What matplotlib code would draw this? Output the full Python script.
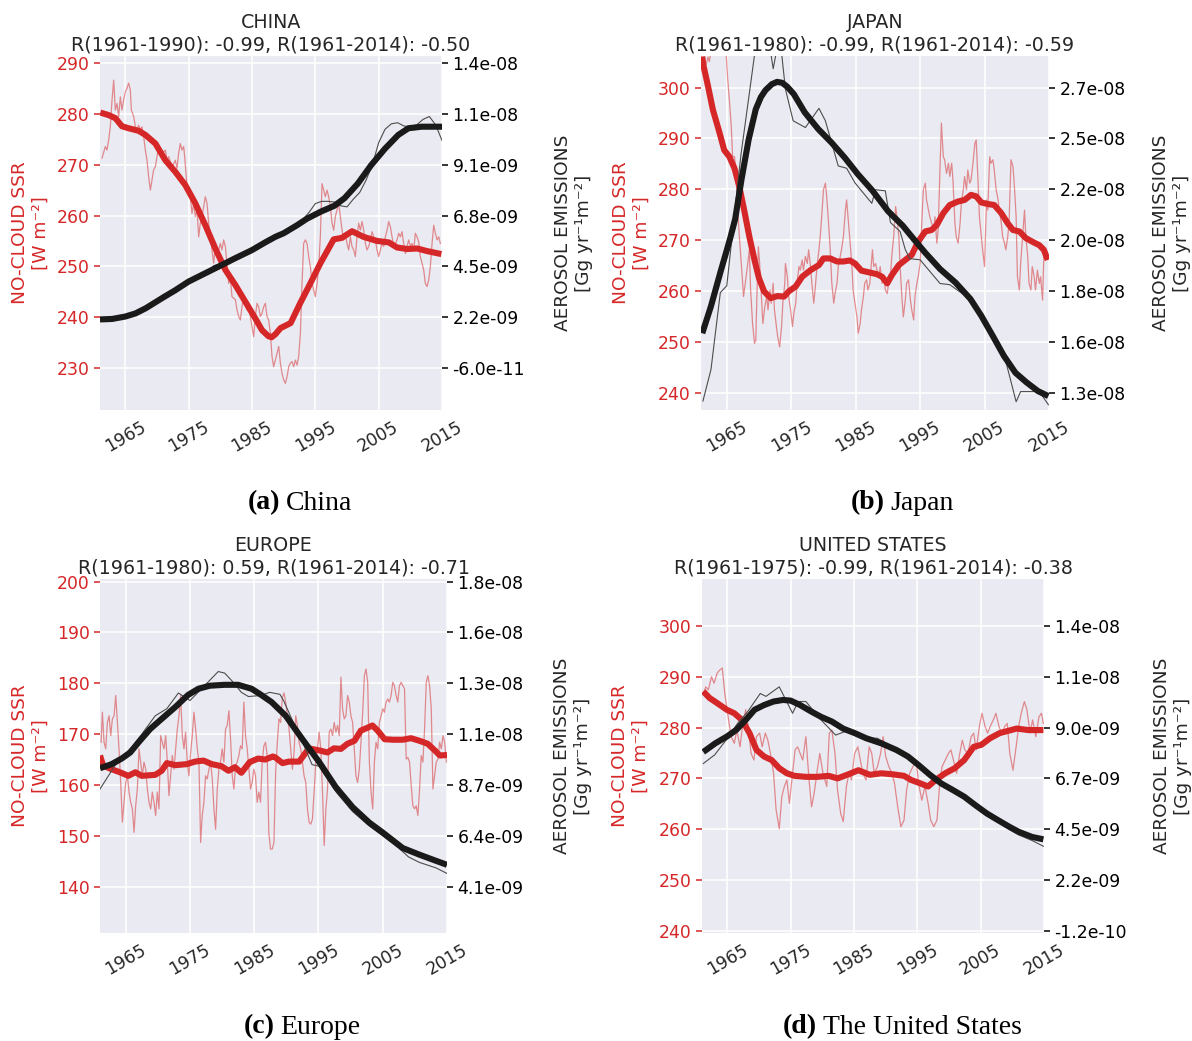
import numpy as np
import matplotlib
matplotlib.use("Agg")
import matplotlib.pyplot as plt
from matplotlib.ticker import FormatStrFormatter

# ---------------------------------------------------------------- data
YEAR_TICKS = [1965, 1975, 1985, 1995, 2005, 2015]

# ---- China: clear-sky SSR (monthly / smoothed), aerosol emissions (1e-9 units)
cn_ssr = [(1961.32,271.3),(1961.84,273.6),(1962.1,272.9),(1962.37,274.9),(1962.63,277.5),(1962.9,282.8),(1963.16,286.7),(1963.42,280.8),(1963.68,282.1),(1963.95,279.5),(1964.21,283.4),(1964.47,280.8),(1964.74,282.8),(1965.0,284.4),(1965.26,285.1),(1965.53,286.1),(1965.79,284.7),(1965.95,280.8),(1966.32,279.5),(1966.58,277.5),(1966.84,276.9),(1967.1,277.8),(1967.37,276.9),(1967.63,277.5),(1967.9,275.5),(1968.16,272.9),(1968.42,270.9),(1968.68,267.7),(1968.95,265.0),(1969.21,267.0),(1969.47,269.0),(1969.74,269.6),(1970.0,271.6),(1970.26,273.6),(1970.79,272.3),(1971.32,272.9),(1971.58,270.9),(1971.84,271.6),(1972.37,269.6),(1972.9,270.9),(1973.16,269.3),(1973.42,272.3),(1973.68,274.2),(1973.95,272.9),(1974.21,273.6),(1974.37,271.6),(1974.74,265.7),(1975.26,263.7),(1975.53,260.4),(1975.79,262.4),(1976.05,259.8),(1976.32,261.1),(1976.58,255.8),(1976.84,258.5),(1977.1,259.8),(1977.37,261.7),(1977.63,263.7),(1977.9,262.4),(1978.16,258.5),(1978.42,255.8),(1978.68,253.2),(1978.95,250.6),(1979.21,253.9),(1979.74,253.2),(1980.0,254.5),(1980.26,253.2),(1980.53,255.2),(1980.79,253.9),(1981.05,250.6),(1981.32,246.6),(1981.58,247.9),(1981.84,244.0),(1982.37,243.4),(1982.63,241.4),(1982.9,240.1),(1983.16,239.4),(1983.42,242.0),(1983.68,244.0),(1983.95,242.7),(1984.21,241.4),(1984.47,242.0),(1984.74,240.1),(1985.0,238.1),(1985.26,236.1),(1985.53,240.1),(1985.79,242.7),(1986.05,242.0),(1986.32,240.1),(1986.58,240.7),(1986.84,242.0),(1987.1,242.7),(1987.37,240.1),(1987.63,239.4),(1987.9,236.8),(1988.16,232.2),(1988.42,230.2),(1988.69,231.5),(1988.95,232.8),(1989.22,234.2),(1989.48,230.9),(1989.74,228.9),(1990.0,227.6),(1990.27,226.9),(1990.53,228.2),(1990.8,230.2),(1991.06,230.9),(1991.32,231.2),(1991.58,230.2),(1991.85,231.5),(1992.11,230.5),(1992.37,232.2),(1992.64,236.8),(1992.9,246.6),(1993.16,254.5),(1993.43,255.2),(1993.69,254.5),(1993.95,251.9),(1994.22,249.9),(1994.48,246.6),(1994.74,245.3),(1995.0,244.0),(1995.27,246.6),(1995.53,249.9),(1995.79,255.8),(1996.06,266.3),(1996.32,265.0),(1996.58,263.7),(1996.85,265.0),(1997.11,263.7),(1997.37,261.7),(1997.64,258.5),(1997.9,257.1),(1998.16,259.8),(1998.43,261.1),(1998.69,262.4),(1998.95,259.8),(1999.22,257.1),(1999.48,255.2),(1999.74,256.5),(2000.0,254.5),(2000.27,253.2),(2000.53,255.8),(2000.79,253.9),(2001.06,253.2),(2001.32,251.9),(2001.58,255.8),(2001.85,258.5),(2002.11,257.1),(2002.37,258.8),(2002.64,257.1),(2002.9,254.5),(2003.16,253.2),(2003.43,253.9),(2003.69,255.2),(2003.95,256.8),(2004.22,255.8),(2004.48,255.2),(2004.74,253.2),(2005.0,251.9),(2005.27,253.2),(2005.53,254.5),(2005.79,253.9),(2006.06,255.8),(2006.32,257.1),(2006.58,258.8),(2006.85,257.8),(2007.11,255.8),(2007.37,253.9),(2007.64,254.5),(2007.9,255.2),(2008.16,256.5),(2008.43,255.8),(2008.69,256.8),(2008.95,254.5),(2009.22,252.5),(2009.48,253.9),(2009.74,255.2),(2010.0,253.9),(2010.27,254.5),(2010.53,253.2),(2010.79,256.5),(2011.06,255.8),(2011.32,254.8),(2011.58,251.9),(2011.85,250.6),(2012.11,249.3),(2012.37,246.6),(2012.64,246.0),(2012.9,247.3),(2013.16,249.9),(2013.43,254.5),(2013.69,258.1),(2013.95,256.5),(2014.22,255.2),(2014.48,255.8),(2014.74,254.5)]
cn_ssr_smooth = [(1961.05,280.3),(1962.37,279.8),(1963.42,279.2),(1964.47,277.6),(1965.53,277.2),(1967.1,276.7),(1968.16,275.9),(1969.74,274.2),(1971.32,270.9),(1972.9,268.6),(1974.47,266.0),(1976.05,262.4),(1977.63,258.1),(1979.21,253.5),(1980.79,249.3),(1982.37,246.3),(1983.95,243.0),(1985.53,239.7),(1986.58,237.4),(1987.6,236.2),(1988.1,236.0),(1988.7,236.6),(1989.5,237.8),(1991.1,238.8),(1992.6,242.7),(1994.2,246.6),(1995.8,250.6),(1997.9,255.3),(1999.2,255.6),(2000.8,256.9),(2002.6,255.8),(2004.7,255.0),(2006.6,254.7),(2007.9,253.7),(2009.5,253.4),(2011.1,253.5),(2012.6,253.0),(2014.9,252.4)]
cn_aer = [(1961.0,2.12),(1962.0,2.12),(1963.0,2.14),(1964.0,2.17),(1965.0,2.21),(1966.0,2.27),(1967.0,2.38),(1968.0,2.55),(1969.0,2.78),(1970.0,3.0),(1971.0,3.24),(1972.0,3.37),(1973.0,3.46),(1974.0,3.65),(1975.0,3.85),(1976.0,4.0),(1977.0,4.12),(1978.0,4.3),(1979.0,4.55),(1980.0,4.63),(1981.0,4.72),(1982.0,4.85),(1983.0,4.98),(1984.0,5.12),(1985.0,5.25),(1986.0,5.4),(1987.0,5.58),(1988.0,5.78),(1989.0,5.95),(1990.0,6.1),(1991.0,6.25),(1992.0,6.4),(1993.0,6.62),(1994.0,6.95),(1995.0,7.35),(1996.0,7.45),(1997.0,7.45),(1998.0,7.42),(1999.0,7.25),(2000.0,7.2),(2001.0,7.55),(2002.0,7.85),(2003.0,8.4),(2004.0,9.1),(2005.0,10.1),(2006.0,10.7),(2007.0,10.95),(2008.0,11.0),(2009.0,10.85),(2010.0,10.82),(2011.0,10.9),(2012.0,11.15),(2013.0,11.28),(2014.0,10.9),(2015.0,10.2)]
cn_aer_smooth = [(1961.0,2.12),(1962.9,2.14),(1965.0,2.25),(1966.6,2.39),(1968.2,2.62),(1970.8,3.08),(1972.9,3.44),(1975.0,3.83),(1977.1,4.13),(1979.7,4.50),(1982.4,4.89),(1985.0,5.25),(1987.1,5.60),(1988.7,5.85),(1990.0,6.01),(1992.1,6.37),(1993.7,6.67),(1995.9,6.99),(1998.0,7.25),(1999.6,7.59),(2001.7,8.25),(2003.8,9.08),(2006.0,9.83),(2008.1,10.45),(2009.7,10.75),(2011.8,10.82),(2015.0,10.82)]
cn_ssr_ticks = [230, 240, 250, 260, 270, 280, 290]
cn_aer_ticks = [-0.06, 2.23, 4.52, 6.81, 9.10, 11.39, 13.68]

# ---- Japan
jp_ssr = [(1961.2,304.8),(1961.5,305.9),(1961.8,304.5),(1962.1,306.0),(1962.3,305.1),(1962.6,307.5),(1963.0,309.0),(1963.5,308.0),(1964.0,310.0),(1964.5,308.5),(1964.9,306.8),(1965.15,301.5),(1965.4,297.6),(1965.7,292.3),(1965.9,286.4),(1966.2,286.4),(1966.4,283.8),(1966.7,275.9),(1966.95,270.7),(1967.1,268.1),(1967.4,262.8),(1967.6,258.9),(1967.8,260.9),(1968.0,262.8),(1968.2,264.8),(1968.5,268.1),(1968.7,260.2),(1969.0,253.6),(1969.3,249.7),(1969.5,250.3),(1969.7,260.2),(1969.9,268.7),(1970.1,265.4),(1970.4,258.2),(1970.6,253.6),(1970.9,256.9),(1971.2,258.9),(1971.4,256.3),(1971.7,260.2),(1971.9,257.6),(1972.2,261.5),(1972.4,256.3),(1972.7,253.0),(1972.9,251.0),(1973.2,249.0),(1973.5,253.0),(1973.7,257.6),(1974.0,261.5),(1974.1,265.4),(1974.4,262.8),(1974.6,258.9),(1974.9,256.3),(1975.2,253.0),(1975.4,255.6),(1975.7,257.6),(1975.9,261.5),(1976.2,264.8),(1976.4,264.1),(1976.7,266.1),(1976.9,264.1),(1977.2,266.8),(1977.5,265.4),(1977.7,268.1),(1978.0,264.8),(1978.2,261.5),(1978.5,257.6),(1978.7,260.2),(1979.0,264.8),(1979.3,268.1),(1979.5,270.7),(1979.8,275.9),(1980.0,279.9),(1980.3,281.2),(1980.5,278.6),(1980.8,273.3),(1981.05,268.1),(1981.3,261.5),(1981.6,257.6),(1981.8,259.5),(1982.1,261.5),(1982.3,264.8),(1982.6,266.8),(1982.8,268.1),(1983.1,270.7),(1983.4,275.9),(1983.6,277.9),(1983.9,273.3),(1984.1,270.0),(1984.4,265.4),(1984.6,260.2),(1984.9,257.6),(1985.2,254.9),(1985.4,251.7),(1985.7,253.6),(1985.9,256.3),(1986.2,258.9),(1986.4,261.5),(1986.7,262.2),(1986.9,260.2),(1987.2,261.5),(1987.6,268.1),(1987.8,264.8),(1988.1,265.4),(1988.3,264.1),(1988.6,262.8),(1988.8,264.8),(1989.1,261.5),(1989.4,262.8),(1989.6,260.2),(1989.9,259.5),(1990.1,261.5),(1990.4,262.8),(1990.6,266.8),(1990.9,270.7),(1991.2,276.6),(1991.4,274.6),(1991.7,270.7),(1991.9,264.8),(1992.2,258.2),(1992.4,254.9),(1992.7,258.2),(1992.9,261.5),(1993.2,262.2),(1993.5,258.2),(1993.7,256.3),(1994.0,254.3),(1994.2,258.9),(1994.5,261.5),(1994.7,262.8),(1995.0,265.4),(1995.3,274.6),(1995.5,279.9),(1995.8,281.2),(1996.0,277.9),(1996.3,275.9),(1996.5,274.6),(1996.8,273.3),(1997.1,272.0),(1997.3,274.6),(1997.6,269.4),(1997.8,272.0),(1998.1,284.5),(1998.3,293.0),(1998.6,286.4),(1998.8,285.8),(1999.1,283.1),(1999.4,285.1),(1999.6,282.5),(1999.9,285.1),(2000.1,281.8),(2000.4,273.3),(2000.6,270.7),(2000.9,269.4),(2001.2,273.3),(2001.4,277.2),(2001.7,279.9),(2001.9,282.5),(2002.2,279.9),(2002.4,283.8),(2002.7,281.2),(2002.9,281.8),(2003.2,285.1),(2003.5,289.0),(2003.7,289.7),(2004.0,281.2),(2004.2,274.6),(2004.5,270.7),(2004.7,268.1),(2005.0,264.8),(2005.3,277.9),(2005.5,275.9),(2005.8,286.4),(2006.0,285.1),(2006.3,285.8),(2006.5,283.8),(2006.8,279.9),(2007.1,277.9),(2007.3,275.9),(2007.6,273.3),(2007.8,270.7),(2008.1,269.4),(2008.3,268.1),(2008.6,270.7),(2008.8,273.3),(2009.1,285.8),(2009.4,284.5),(2009.6,281.2),(2009.9,274.6),(2010.1,262.8),(2010.4,260.2),(2010.6,265.4),(2010.9,270.7),(2011.2,275.9),(2011.4,270.7),(2011.7,266.8),(2011.9,261.5),(2012.2,260.2),(2012.4,264.8),(2012.7,262.8),(2012.9,260.2),(2013.2,264.1),(2013.5,261.5),(2013.7,262.8),(2014.0,258.2),(2014.2,266.8),(2014.5,268.1)]
jp_ssr_smooth = [(1961.2,306.1),(1961.3,304.8),(1962.1,300.2),(1962.85,295.6),(1963.9,291.0),(1964.6,287.7),(1965.4,286.4),(1966.2,284.1),(1966.95,280.5),(1967.7,275.9),(1968.5,270.7),(1969.3,266.1),(1970.0,262.5),(1970.8,259.9),(1971.8,258.6),(1972.85,259.0),(1973.9,258.9),(1974.6,259.9),(1975.7,260.9),(1976.7,262.8),(1978.0,264.1),(1979.3,265.1),(1980.0,266.4),(1981.05,266.4),(1982.1,265.8),(1983.1,265.8),(1984.1,266.0),(1984.9,265.4),(1985.9,264.0),(1987.3,263.6),(1988.3,263.3),(1989.1,262.8),(1989.9,261.5),(1990.6,263.1),(1991.7,265.1),(1992.7,266.1),(1993.7,267.1),(1994.7,269.7),(1995.8,271.7),(1996.8,272.0),(1997.6,273.0),(1998.6,275.3),(1999.6,276.9),(2000.9,277.6),(2001.9,277.9),(2002.9,278.9),(2003.7,278.6),(2004.5,277.4),(2005.5,277.1),(2006.5,276.9),(2007.6,275.3),(2008.6,273.3),(2009.4,272.0),(2010.4,271.7),(2011.4,270.4),(2012.4,269.7),(2013.5,269.0),(2014.2,268.1),(2014.8,266.1)]
jp_aer = [(1961.3,13.0),(1962.55,14.4),(1964.0,17.8),(1965.0,18.1),(1967.2,23.9),(1968.4,26.4),(1969.3,28.3),(1970.2,29.3),(1971.2,29.6),(1972.2,27.7),(1973.2,29.2),(1974.1,26.8),(1975.3,25.4),(1977.2,25.1),(1979.3,25.95),(1980.3,25.4),(1982.3,23.4),(1983.6,23.3),(1984.9,22.65),(1987.5,21.75),(1988.1,22.35),(1989.6,22.3),(1990.4,20.9),(1991.9,20.5),(1992.7,19.7),(1993.4,19.3),(1995.0,19.25),(1998.1,18.2),(1999.6,18.15),(2002.8,17.5),(2004.5,16.75),(2006.3,15.85),(2008.3,14.75),(2009.9,12.97),(2010.6,13.42),(2013.5,13.42),(2014.9,12.84)]
jp_aer_smooth = [(1961.2,16.0),(1962.55,17.2),(1964.0,18.69),(1965.5,20.17),(1966.3,21.05),(1967.3,22.83),(1968.4,24.58),(1969.5,25.91),(1970.3,26.45),(1971.0,26.75),(1972.0,27.02),(1972.8,27.12),(1973.6,27.08),(1974.4,26.9),(1975.4,26.58),(1977.1,25.77),(1979.2,25.03),(1981.2,24.45),(1983.3,23.77),(1985.3,23.05),(1987.6,22.31),(1990.0,21.41),(1992.3,20.76),(1994.0,20.17),(1995.8,19.56),(1998.1,18.84),(2000.5,18.24),(2002.8,17.52),(2004.5,16.77),(2006.3,15.87),(2008.0,15.0),(2009.8,14.25),(2011.5,13.83),(2013.3,13.44),(2014.9,13.22)]
jp_ssr_ticks = [240, 250, 260, 270, 280, 290, 300]
jp_aer_ticks = [13.37, 15.62, 17.87, 20.12, 22.37, 24.62, 26.87]

# ---- Europe
eu_ssr = [(1961.17,168.4),(1961.37,174.3),(1961.63,168.4),(1961.89,167.1),(1962.15,172.3),(1962.41,173.6),(1962.67,169.7),(1962.93,173.0),(1963.19,173.6),(1963.45,177.6),(1963.7,172.3),(1963.96,167.1),(1964.22,160.5),(1964.48,152.7),(1964.74,156.6),(1965.0,160.5),(1965.26,161.8),(1965.52,158.6),(1965.78,156.6),(1966.04,155.3),(1966.3,150.7),(1966.55,155.9),(1966.81,159.2),(1967.07,167.1),(1967.33,164.5),(1967.59,161.8),(1967.85,164.5),(1968.11,163.1),(1968.37,159.2),(1968.63,156.6),(1968.89,155.3),(1969.14,158.6),(1969.4,156.6),(1969.66,154.0),(1969.92,158.6),(1970.18,155.3),(1970.44,169.7),(1970.7,168.4),(1970.96,167.1),(1971.22,169.7),(1971.48,164.5),(1971.73,157.9),(1971.99,161.8),(1972.25,165.8),(1972.51,163.1),(1972.77,167.1),(1973.03,171.0),(1973.29,173.6),(1973.55,177.6),(1973.81,169.7),(1974.07,167.1),(1974.32,170.4),(1974.58,164.5),(1974.84,161.8),(1975.1,166.4),(1975.36,169.7),(1975.62,174.3),(1975.88,171.0),(1976.14,167.1),(1976.4,164.5),(1976.66,148.7),(1976.91,154.0),(1977.17,156.6),(1977.43,161.8),(1977.69,161.2),(1977.95,163.1),(1978.21,164.5),(1978.47,161.2),(1978.73,155.3),(1978.99,151.3),(1979.25,159.2),(1979.5,163.1),(1979.76,164.5),(1980.02,167.1),(1980.28,164.5),(1980.54,171.0),(1980.8,171.7),(1981.06,174.6),(1981.32,169.0),(1981.58,161.8),(1981.84,159.2),(1982.09,163.8),(1982.35,164.5),(1982.61,165.8),(1982.87,167.7),(1983.13,167.1),(1983.39,176.3),(1983.65,169.7),(1983.91,167.1),(1984.17,163.1),(1984.43,159.2),(1984.68,160.5),(1984.94,163.1),(1985.2,161.8),(1985.46,156.6),(1985.72,158.6),(1985.98,156.6),(1986.24,164.5),(1986.5,167.7),(1986.76,168.4),(1987.02,165.8),(1987.27,150.7),(1987.53,147.4),(1987.8,147.4),(1988.07,148.7),(1988.33,162.5),(1988.6,168.4),(1988.85,173.0),(1989.11,172.3),(1989.38,177.2),(1989.64,178.1),(1989.9,176.3),(1990.16,173.6),(1990.42,171.0),(1990.68,167.1),(1990.94,163.1),(1991.2,166.4),(1991.46,173.6),(1991.72,171.7),(1991.98,168.4),(1992.24,167.1),(1992.5,164.5),(1992.76,161.8),(1993.02,160.5),(1993.28,155.3),(1993.54,152.7),(1993.8,152.3),(1994.06,153.3),(1994.32,158.6),(1994.58,164.5),(1994.84,167.1),(1995.1,170.4),(1995.36,167.1),(1995.63,158.6),(1995.89,148.1),(1996.15,155.3),(1996.41,159.2),(1996.67,170.4),(1996.93,171.0),(1997.19,169.7),(1997.45,172.3),(1997.71,170.4),(1997.97,171.7),(1998.23,169.7),(1998.49,181.2),(1998.75,175.0),(1999.01,173.0),(1999.27,173.6),(1999.53,177.6),(1999.79,176.3),(2000.05,173.6),(2000.31,172.3),(2000.57,167.1),(2000.83,161.8),(2001.09,160.5),(2001.35,163.1),(2001.61,168.4),(2001.88,174.3),(2002.14,181.5),(2002.4,182.8),(2002.66,180.2),(2002.92,164.5),(2003.18,158.6),(2003.44,155.3),(2003.7,164.5),(2003.96,168.4),(2004.22,167.1),(2004.48,172.3),(2004.74,173.6),(2005.0,175.0),(2005.26,174.3),(2005.52,176.3),(2005.78,176.9),(2006.04,176.3),(2006.3,177.6),(2006.56,180.2),(2006.82,179.5),(2007.08,177.6),(2007.34,176.3),(2007.6,179.5),(2007.86,180.2),(2008.13,179.5),(2008.39,178.9),(2008.65,165.1),(2008.91,165.4),(2009.17,164.5),(2009.43,159.9),(2009.69,155.9),(2009.95,155.3),(2010.21,155.9),(2010.47,154.0),(2010.73,159.2),(2010.99,165.8),(2011.25,164.5),(2011.51,171.0),(2011.77,180.2),(2012.03,181.5),(2012.29,179.5),(2012.55,175.0),(2012.81,159.2),(2013.07,161.8),(2013.33,164.5),(2013.59,165.1),(2013.85,168.4),(2014.11,167.1),(2014.38,169.7),(2014.64,168.4),(2014.9,164.5)]
eu_ssr_smooth = [(1961.0,165.8),(1961.5,163.8),(1962.8,163.1),(1964.1,162.5),(1965.4,161.8),(1966.5,162.5),(1967.5,161.8),(1969.6,162.0),(1970.6,162.8),(1971.4,164.3),(1972.7,163.9),(1974.5,164.1),(1975.8,164.6),(1977.1,164.8),(1978.4,164.1),(1979.9,163.7),(1981.0,162.8),(1982.0,163.5),(1983.0,162.4),(1984.3,164.5),(1985.6,165.2),(1986.7,165.0),(1987.9,165.6),(1988.3,165.4),(1989.4,164.3),(1990.4,164.6),(1992.0,164.6),(1993.5,167.2),(1995.1,166.8),(1996.4,166.4),(1997.4,167.2),(1998.5,167.1),(1999.5,168.1),(2000.6,168.7),(2001.6,170.7),(2002.7,171.3),(2003.4,171.7),(2004.2,170.7),(2005.3,169.0),(2006.6,168.9),(2008.1,168.9),(2009.4,169.2),(2010.7,168.7),(2012.0,168.1),(2013.1,166.8),(2013.9,165.8),(2015.0,165.9)]
eu_aer = [(1961.0,8.52),(1962.3,9.11),(1963.3,9.57),(1964.5,9.97),(1966.0,10.43),(1967.5,11.0),(1969.6,11.83),(1971.4,12.15),(1973.2,12.86),(1975.0,12.52),(1976.5,12.96),(1977.8,13.35),(1979.4,13.83),(1980.4,13.76),(1981.5,13.42),(1983.0,12.89),(1984.1,12.70),(1986.1,12.75),(1987.4,12.89),(1989.0,12.8),(1989.6,12.5),(1991.0,11.58),(1992.5,10.66),(1994.0,9.62),(1995.1,9.55),(1997.7,8.4),(2000.3,7.5),(2002.9,6.85),(2005.0,6.4),(2007.5,5.85),(2009.0,5.45),(2010.7,5.2),(2013.3,4.95),(2015.0,4.7)]
eu_aer_smooth = [(1961.0,9.46),(1962.8,9.64),(1964.4,9.90),(1965.7,10.17),(1967.0,10.63),(1968.8,11.23),(1970.6,11.69),(1972.7,12.22),(1974.7,12.77),(1976.3,13.05),(1978.1,13.19),(1980.4,13.23),(1982.5,13.23),(1984.6,13.05),(1986.1,12.77),(1987.7,12.45),(1989.9,11.83),(1992.5,10.77),(1995.1,9.74),(1997.7,8.6),(2000.3,7.7),(2002.9,7.0),(2005.0,6.55),(2008.1,5.85),(2010.7,5.55),(2013.3,5.27),(2015.0,5.09)]
eu_ssr_ticks = [140, 150, 160, 170, 180, 190, 200]
eu_aer_ticks = [4.1, 6.4, 8.7, 11.0, 13.3, 15.6, 17.9]

# ---- United States
us_ssr = [(1961.19,286.7),(1961.6,288.0),(1962.0,287.4),(1962.5,290.0),(1962.9,288.7),(1963.4,290.7),(1963.8,291.3),(1964.2,291.7),(1964.6,286.7),(1965.2,281.5),(1965.6,278.2),(1966.1,276.9),(1966.5,279.5),(1967.0,276.2),(1967.4,280.2),(1967.9,283.5),(1968.3,280.2),(1968.75,274.9),(1969.2,273.6),(1969.6,278.2),(1970.1,278.9),(1970.5,276.2),(1971.0,278.9),(1971.4,277.5),(1971.8,274.9),(1972.3,271.0),(1972.7,263.8),(1973.2,260.1),(1973.6,266.4),(1974.0,268.4),(1974.4,269.7),(1974.8,265.1),(1975.3,271.0),(1975.7,275.6),(1976.1,276.2),(1976.5,274.9),(1976.9,273.6),(1977.4,278.2),(1977.9,269.7),(1978.3,264.4),(1978.7,267.0),(1979.2,271.6),(1979.6,274.9),(1980.1,271.0),(1980.7,268.4),(1981.1,278.9),(1981.5,279.5),(1982.0,274.9),(1982.4,267.7),(1982.9,263.1),(1983.3,261.5),(1983.8,268.4),(1984.2,271.0),(1984.6,269.7),(1985.1,274.9),(1985.6,276.2),(1986.0,273.6),(1986.4,271.0),(1986.9,269.7),(1987.4,276.2),(1987.8,274.9),(1988.2,271.0),(1988.7,272.3),(1989.2,274.9),(1989.6,278.2),(1990.0,274.3),(1990.5,272.3),(1991.0,271.0),(1991.4,269.0),(1991.9,264.4),(1992.4,260.5),(1992.9,261.8),(1993.3,267.7),(1993.8,271.0),(1994.3,272.3),(1994.8,273.6),(1995.2,269.0),(1995.7,265.7),(1996.2,268.4),(1996.7,265.1),(1997.1,261.8),(1997.6,260.5),(1998.1,261.8),(1998.5,268.4),(1998.9,272.3),(1999.4,273.6),(1999.9,274.9),(2000.3,275.6),(2000.7,273.6),(2001.2,271.0),(2001.7,274.9),(2002.1,277.5),(2002.5,275.6),(2003.0,274.9),(2003.5,278.2),(2003.9,278.9),(2004.3,275.6),(2004.8,280.2),(2005.2,282.8),(2005.7,280.2),(2006.1,278.9),(2006.5,280.2),(2007.0,281.5),(2007.4,282.8),(2007.9,280.2),(2008.3,278.9),(2008.8,280.2),(2009.2,280.8),(2009.6,274.9),(2010.1,271.6),(2010.6,276.2),(2011.0,280.2),(2011.4,282.8),(2011.9,285.1),(2012.3,283.5),(2012.8,278.9),(2013.2,281.5),(2013.7,278.2),(2014.2,282.1),(2014.6,282.8),(2014.9,280.8)]
us_ssr_smooth = [(1961.2,287.1),(1962.2,285.8),(1963.4,284.8),(1964.9,283.5),(1966.1,282.8),(1967.3,281.5),(1968.5,278.9),(1969.6,275.6),(1970.8,274.3),(1972.0,273.6),(1973.2,272.0),(1974.4,271.0),(1975.6,270.5),(1977.4,270.3),(1979.2,270.3),(1981.0,270.5),(1982.4,270.0),(1983.9,270.7),(1985.7,271.6),(1987.5,270.7),(1989.3,271.0),(1991.1,270.8),(1992.9,270.5),(1994.0,269.7),(1995.5,269.0),(1996.7,268.4),(1997.9,269.7),(1999.4,271.0),(2000.9,272.0),(2002.4,273.6),(2003.9,276.2),(2005.1,276.6),(2006.5,277.9),(2008.0,278.9),(2009.5,279.4),(2010.7,279.8),(2012.5,279.5),(2014.9,279.5)]
us_aer = [(1961.2,7.41),(1963.0,7.8),(1964.9,8.5),(1966.7,9.25),(1968.2,9.74),(1970.2,10.56),(1971.1,10.43),(1973.2,10.86),(1975.3,9.67),(1976.2,10.2),(1977.4,10.2),(1979.8,9.37),(1982.1,8.69),(1983.6,8.85),(1986.9,8.55),(1988.7,8.55),(1991.7,8.0),(1993.5,7.7),(1995.2,7.34),(1997.0,6.95),(1998.8,6.5),(2000.6,6.15),(2002.4,5.85),(2004.8,5.4),(2007.0,4.95),(2009.5,4.45),(2011.0,4.2),(2013.1,3.95),(2014.9,3.69)]
us_aer_smooth = [(1961.2,7.93),(1963.1,8.32),(1964.9,8.62),(1966.4,8.92),(1967.9,9.37),(1969.3,9.83),(1970.8,10.04),(1972.3,10.20),(1973.8,10.27),(1975.0,10.24),(1976.5,10.04),(1978.3,9.74),(1979.8,9.51),(1981.5,9.30),(1983.3,8.98),(1985.1,8.78),(1986.9,8.55),(1989.3,8.32),(1991.7,8.02),(1993.5,7.73),(1995.2,7.34),(1997.0,6.90),(1998.8,6.51),(2000.6,6.22),(2002.4,5.92),(2004.2,5.53),(2006.0,5.16),(2007.7,4.87),(2009.5,4.57),(2011.0,4.34),(2013.1,4.11),(2014.9,4.00)]
us_ssr_ticks = [240, 250, 260, 270, 280, 290, 300]
us_aer_ticks = [-0.12, 2.1675, 4.455, 6.7425, 9.03, 11.3175, 13.605]

# ---------------------------------------------------------------- style
W, H, DPI = 1192, 1041, 100
RED = "#d62728"
TXT = "#262626"
BG = "#EAEAF2"
TICK_FS = 12.4
LAB_FS = 13.3
TITLE_FS = 13.7

plt.rcParams["font.family"] = ["DejaVu Sans"]
fig = plt.figure(figsize=(W / DPI, H / DPI), dpi=DPI, facecolor="white")


def draw_panel(box, title, ssr, ssr_s, aer, aer_s, ssr_ticks, aer_ticks,
               ylim, lab_left_px, lab_right_px):
    x0, y0, x1, y1 = box
    w, h = x1 - x0, y1 - y0
    ax = fig.add_axes([x0 / W, 1 - y1 / H, w / W, h / H])
    ax.set_facecolor(BG)
    for s in ax.spines.values():
        s.set_visible(False)
    ax.grid(True, color="white", lw=1.1)
    ax.set_axisbelow(True)

    t, v = zip(*ssr)
    ax.plot(t, v, color=RED, lw=0.9, alpha=0.5)
    t, v = zip(*ssr_s)
    ax.plot(t, v, color=RED, lw=4.4, solid_joinstyle="round",
            solid_capstyle="butt")

    ax.set_xlim(1961, 2015)
    ax.set_ylim(*ylim)
    ax.set_xticks(YEAR_TICKS)
    ax.set_yticks(ssr_ticks)
    ax.tick_params(axis="y", colors=RED, labelsize=TICK_FS, length=4.5,
                   width=1.1, pad=3)
    ax.tick_params(axis="x", length=0, labelsize=TICK_FS, labelcolor=TXT,
                   pad=6, labelrotation=30)
    ax.set_title(title, fontsize=TITLE_FS, color=TXT, pad=4,
                 linespacing=1.25)
    ax.set_ylabel("NO-CLOUD SSR\n[W m\u207b\u00b2]", color=RED,
                  fontsize=LAB_FS)
    ax.yaxis.set_label_coords(lab_left_px / w, 0.5)

    ax2 = ax.twinx()
    for s in ax2.spines.values():
        s.set_visible(False)
    ax2.grid(False)
    t, v = zip(*aer)
    ax2.plot(t, np.array(v) * 1e-9, color="#4d4d4d", lw=0.8)
    t, v = zip(*aer_s)
    ax2.plot(t, np.array(v) * 1e-9, color="#1a1a1a", lw=4.4,
             solid_joinstyle="round", solid_capstyle="butt")

    # right-hand limits follow the left ones so both tick sets line up
    l0, l1 = ssr_ticks[0], ssr_ticks[-1]
    r0, r1 = aer_ticks[0] * 1e-9, aer_ticks[-1] * 1e-9
    scale = (r1 - r0) / (l1 - l0)
    ax2.set_ylim(r0 + (ylim[0] - l0) * scale, r0 + (ylim[1] - l0) * scale)
    ax2.set_yticks(np.array(aer_ticks) * 1e-9)
    ax2.yaxis.set_major_formatter(FormatStrFormatter("%.1e"))
    ax2.tick_params(axis="y", colors="black", labelsize=TICK_FS, length=4.5,
                    width=1.1, pad=3)
    ax2.set_ylabel("AEROSOL EMISSIONS\n[Gg yr\u207b\u00b9m\u207b\u00b2]",
                   color=TXT, fontsize=LAB_FS)
    ax2.yaxis.set_label_coords(1 + lab_right_px / w, 0.5)
    ax.set_xlim(1961, 2015)
    return ax


draw_panel((100, 56, 442, 410),
           "CHINA\nR(1961-1990): -0.99, R(1961-2014): -0.50",
           cn_ssr, cn_ssr_smooth, cn_aer, cn_aer_smooth,
           cn_ssr_ticks, cn_aer_ticks, (221.66, 291.45), -50, 112)
draw_panel((701, 56, 1049, 410),
           "JAPAN\nR(1961-1980): -0.99, R(1961-2014): -0.59",
           jp_ssr, jp_ssr_smooth, jp_aer, jp_aer_smooth,
           jp_ssr_ticks, jp_aer_ticks, (236.6, 306.2), -50, 103)
draw_panel((100, 579, 447, 933),
           "EUROPE\nR(1961-1980): 0.59, R(1961-2014): -0.71",
           eu_ssr, eu_ssr_smooth, eu_aer, eu_aer_smooth,
           eu_ssr_ticks, eu_aer_ticks, (130.9, 200.5), -50, 106)
draw_panel((702, 579, 1044, 933),
           "UNITED STATES\nR(1961-1975): -0.99, R(1961-2014): -0.38",
           us_ssr, us_ssr_smooth, us_aer, us_aer_smooth,
           us_ssr_ticks, us_aer_ticks, (239.6, 309.2), -52, 109)

# ---------------------------------------------------------------- captions
CAP_FS = 20
renderer = fig.canvas.get_renderer()


def caption(xc, yc, tag, name):
    t1 = fig.text(0, 0, tag, fontsize=CAP_FS, fontweight="bold",
                  family="Liberation Serif", color="black", va="center")
    t2 = fig.text(0, 0, name, fontsize=CAP_FS, family="Liberation Serif",
                  color="black", va="center")
    gap = 6
    w1 = t1.get_window_extent(renderer).width
    w2 = t2.get_window_extent(renderer).width
    left = xc - (w1 + gap + w2) / 2
    t1.set_position((left / W, 1 - yc / H))
    t2.set_position(((left + w1 + gap) / W, 1 - yc / H))


caption(300, 503, "(a)", "China")
caption(902, 503, "(b)", "Japan")
caption(302, 1027, "(c)", "Europe")
caption(902, 1027, "(d)", "The United States")

fig.savefig("out.png", dpi=DPI, facecolor="white")
